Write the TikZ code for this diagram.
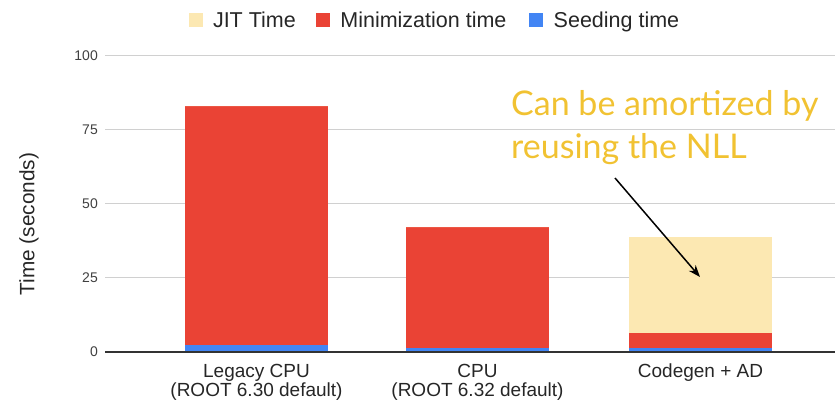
\documentclass[tikz,border=0pt]{standalone}
\usepackage{fontspec}
\setmainfont{Liberation Sans}
\newfontfamily\latofont{Lato}
\usetikzlibrary{arrows.meta, positioning}
\definecolor{jitcol}{HTML}{FCE8B2}
\definecolor{mincol}{HTML}{EA4335}
\definecolor{seedcol}{HTML}{4285F4}
\definecolor{notecol}{HTML}{F1C232}
\definecolor{gridcol}{HTML}{D0D0D0}
\definecolor{axiscol}{HTML}{333333}
\tikzstyle{gridline} = [
    draw=gridcol,
    line width=1pt
]
\tikzstyle{zeroline} = [
    draw=axiscol,
    line width=1.3pt
]
\tikzstyle{ticklabel} = [
    anchor=east,
    inner sep=0pt,
    text=black!75,
    font=\fontsize{14}{16}\selectfont
]
\tikzstyle{legendbox} = [
    rectangle,
    minimum size=14pt,
    inner sep=0pt
]
\tikzstyle{legendtext} = [
    inner sep=0pt,
    text height=15pt,
    text depth=0pt,
    text=black!85,
    font=\fontsize{21.5}{24}\selectfont
]
\tikzstyle{catlabel} = [
    anchor=north,
    align=center,
    inner sep=0pt,
    text=black!85,
    font=\fontsize{19}{19}\selectfont
]
\tikzstyle{note} = [
    anchor=north west,
    align=left,
    inner sep=0pt,
    text=notecol,
    font=\latofont\fontsize{34}{43}\selectfont
]
\tikzstyle{arrow} = [line width=1.5pt,-{Stealth[length=12pt,width=9pt]}]

\begin{document}
\begin{tikzpicture}[x=1pt, y=1pt, node distance=10pt]
\useasboundingbox (0,0) rectangle (835,401);

% legend
\node (jitbox) [legendbox, fill=jitcol] at (195.6,380.5) {};
\node (jitlabel) [legendtext, right=of jitbox] {JIT Time};
\node (minbox) [legendbox, fill=mincol] at (323,380.5) {};
\node (minlabel) [legendtext, right=of minbox] {Minimization time};
\node (seedbox) [legendbox, fill=seedcol] at (536.3,380.5) {};
\node (seedlabel) [legendtext, right=of seedbox] {Seeding time};

% axis title
\node (ytitle) [rotate=90, text=black!85, font=\fontsize{20.8}{24}\selectfont]
at (29,177) {Time (seconds)};

\begin{scope}[shift={(0,49)}, y=2.96pt]
% grid and ticks
\foreach \v in {25,50,75,100} {
    \draw [gridline] (105,\v) -- (835,\v);
}
\foreach \v in {0,25,50,75,100} {
    \node (tick\v) [ticklabel] at (98,\v) {\v};
}

% stacked bars: left / seeding / minimization / jit
\foreach \x/\s/\m/\j in {185/2.4/80.7/0, 406/1.2/41.0/0, 629/1.2/5.3/32.5} {
    \fill [seedcol] (\x,0) rectangle (\x+143,\s);
    \fill [mincol] (\x,\s) rectangle (\x+143,\s+\m);
    \fill [jitcol] (\x,\s+\m) rectangle (\x+143,\s+\m+\j);
}
\draw [zeroline] (105,0) -- (835,0);
\end{scope}

% category labels
\node (legacy) [catlabel] at (256.5,37) {Legacy CPU\\(ROOT 6.30 default)};
\node (cpu) [catlabel] at (477.5,37) {CPU\\(ROOT 6.32 default)};
\node (codegen) [catlabel] at (700.5,37) {Codegen + AD};

% annotation
\node (note) [note] at (511,311) {Can be amortized by\\reusing the NLL};
\coordinate (arrowtail) at (615,223);
\coordinate (arrowtip) at (700,124);
\draw [arrow] (arrowtail) -- (arrowtip);

\end{tikzpicture}
\end{document}
